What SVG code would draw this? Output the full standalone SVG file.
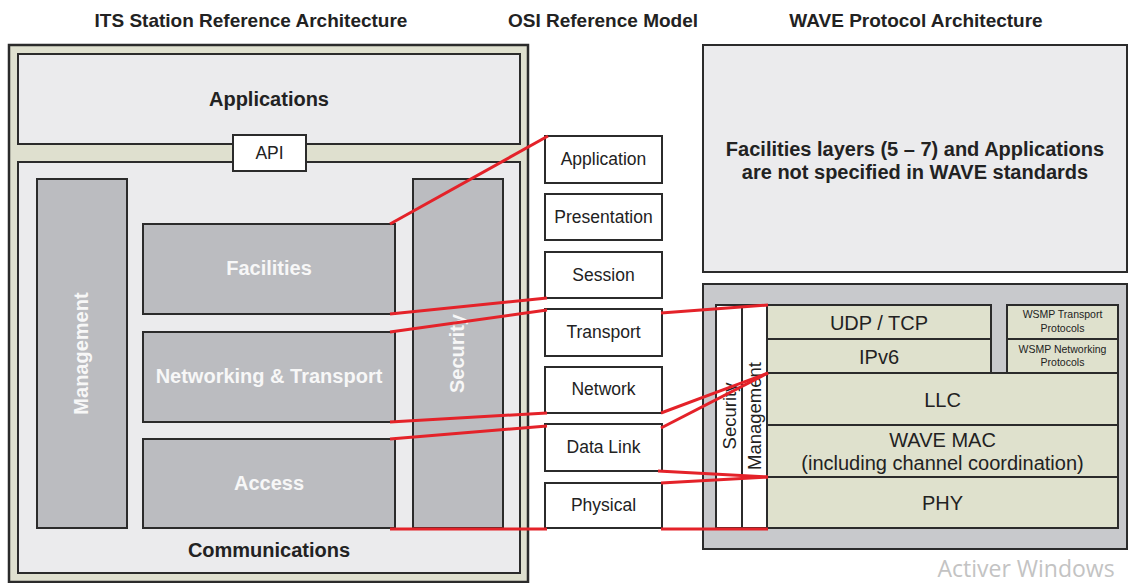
<svg xmlns="http://www.w3.org/2000/svg" width="1129" height="583" viewBox="0 0 1129 583">
<style>
.frame{fill:#dfe0cf;stroke:#2b2b2b;stroke-width:2.5}
.light{fill:#ebebed;stroke:#2b2b2b;stroke-width:2}
.gray{fill:#bbbcc0;stroke:#2b2b2b;stroke-width:2}
.white{fill:#ffffff;stroke:#2b2b2b;stroke-width:2}
.beige{fill:#dfe1cd;stroke:#2b2b2b;stroke-width:2}
.wgray{fill:#c8c9cc;stroke:#2b2b2b;stroke-width:2}
text{font-family:"Liberation Sans",Arial,sans-serif;fill:#222}
.hdr{font-size:19px;font-weight:bold;text-anchor:middle}
.bd{font-size:20px;font-weight:bold;text-anchor:middle}
.wt{font-size:20px;font-weight:bold;text-anchor:middle;fill:#f7f7f7}
.osi{font-size:17.5px;text-anchor:middle}
.rg{font-size:20px;text-anchor:middle}
.sm{font-size:10.5px;text-anchor:middle}
.vt{font-size:18.5px;text-anchor:middle}
.red{stroke:#e42229;stroke-width:3;fill:none}
</style>
<rect width="1129" height="583" fill="#ffffff"/>
<g id="titles">
<text class="hdr" x="251" y="27">ITS Station Reference Architecture</text>
<text class="hdr" x="603" y="27">OSI Reference Model</text>
<text class="hdr" x="916" y="27">WAVE Protocol Architecture</text>
</g>
<g id="its-frame"><rect class="frame" x="9" y="45" width="519" height="537"/></g>
<g id="applications"><rect class="light" x="18" y="54" width="502" height="90"/><text class="bd" x="269" y="106">Applications</text></g>
<g id="communications"><rect class="light" x="18" y="162" width="502" height="411"/><text class="bd" x="269" y="557">Communications</text></g>
<g id="api"><rect class="white" x="233" y="135" width="73" height="36"/><text class="osi" x="269.5" y="159">API</text></g>
<g id="management-its"><rect class="gray" x="37" y="179" width="90" height="349"/><text class="wt" transform="translate(81,353.5) rotate(-90)" x="0" y="7">Management</text></g>
<g id="security-its"><rect class="gray" x="413" y="179" width="90" height="349"/><text class="wt" transform="translate(456.5,353.5) rotate(-90)" x="0" y="7">Security</text></g>
<g id="facilities"><rect class="gray" x="143" y="224" width="252" height="90"/><text class="wt" x="269" y="275">Facilities</text></g>
<g id="networking"><rect class="gray" x="143" y="332" width="252" height="90"/><text class="wt" x="269" y="383">Networking &amp; Transport</text></g>
<g id="access"><rect class="gray" x="143" y="439" width="252" height="89"/><text class="wt" x="269" y="490">Access</text></g>
<g id="osi-application"><rect class="white" x="545" y="136" width="117" height="47"/><text class="osi" x="603.5" y="165">Application</text></g>
<g id="osi-presentation"><rect class="white" x="545" y="194" width="117" height="46"/><text class="osi" x="603.5" y="223">Presentation</text></g>
<g id="osi-session"><rect class="white" x="545" y="252" width="117" height="46"/><text class="osi" x="603.5" y="281">Session</text></g>
<g id="osi-transport"><rect class="white" x="545" y="309" width="117" height="47"/><text class="osi" x="603.5" y="338">Transport</text></g>
<g id="osi-network"><rect class="white" x="545" y="367" width="117" height="46"/><text class="osi" x="603.5" y="395">Network</text></g>
<g id="osi-datalink"><rect class="white" x="545" y="424" width="117" height="47"/><text class="osi" x="603.5" y="453">Data Link</text></g>
<g id="osi-physical"><rect class="white" x="545" y="483" width="117" height="45"/><text class="osi" x="603.5" y="511">Physical</text></g>
<g id="wave-upper"><rect class="light" x="703" y="45" width="424" height="227"/>
<text class="bd" x="915" y="156">Facilities layers (5 – 7) and Applications</text>
<text class="bd" x="915" y="179">are not specified in WAVE standards</text></g>
<g id="wave-lower"><rect class="wgray" x="703" y="284" width="424" height="265"/></g>
<g id="wave-security"><rect class="white" x="716" y="305" width="26" height="223"/><text class="vt" transform="translate(729,416) rotate(-90)" x="0" y="6.5">Security</text></g>
<g id="wave-management"><rect class="white" x="742" y="305" width="25" height="223"/><text class="vt" transform="translate(754,416) rotate(-90)" x="0" y="6.5">Management</text></g>
<g id="udp-tcp"><rect class="beige" x="767" y="305" width="224" height="34"/><text class="rg" x="879" y="330">UDP / TCP</text></g>
<g id="ipv6"><rect class="beige" x="767" y="339" width="224" height="34"/><text class="rg" x="879" y="364">IPv6</text></g>
<g id="wsmp-transport"><rect class="beige" x="1007" y="305" width="111" height="34"/><text class="sm" x="1062.5" y="318">WSMP Transport</text><text class="sm" x="1062.5" y="332">Protocols</text></g>
<g id="wsmp-networking"><rect class="beige" x="1007" y="339" width="111" height="34"/><text class="sm" x="1062.5" y="353">WSMP Networking</text><text class="sm" x="1062.5" y="366">Protocols</text></g>
<g id="llc"><rect class="beige" x="767" y="373" width="351" height="52"/><text class="rg" x="942.5" y="407">LLC</text></g>
<g id="wave-mac"><rect class="beige" x="767" y="425" width="351" height="52"/><text class="rg" x="942.5" y="447">WAVE MAC</text><text class="rg" x="942.5" y="470">(including channel coordination)</text></g>
<g id="phy"><rect class="beige" x="767" y="477" width="351" height="51"/><text class="rg" x="942.5" y="510">PHY</text></g>
<g id="connectors">
<line class="red" x1="390" y1="224" x2="548" y2="136"/>
<line class="red" x1="390" y1="314" x2="547" y2="298"/>
<line class="red" x1="390" y1="332" x2="547" y2="310"/>
<line class="red" x1="390" y1="422" x2="547" y2="413"/>
<line class="red" x1="390" y1="439" x2="547" y2="426"/>
<line class="red" x1="390" y1="529" x2="547" y2="529"/>
<line class="red" x1="661" y1="313" x2="768" y2="305"/>
<line class="red" x1="661" y1="413" x2="768" y2="373"/>
<line class="red" x1="661" y1="428" x2="768" y2="373"/>
<line class="red" x1="658" y1="471" x2="768" y2="477"/>
<line class="red" x1="661" y1="483" x2="768" y2="477"/>
<line class="red" x1="661" y1="529" x2="768" y2="529"/>
</g>
<text x="1026" y="577" style="font-family:'Open Sans','Noto Sans',sans-serif;font-size:23px;fill:#c3c3c3;text-anchor:middle">Activer Windows</text>
</svg>
